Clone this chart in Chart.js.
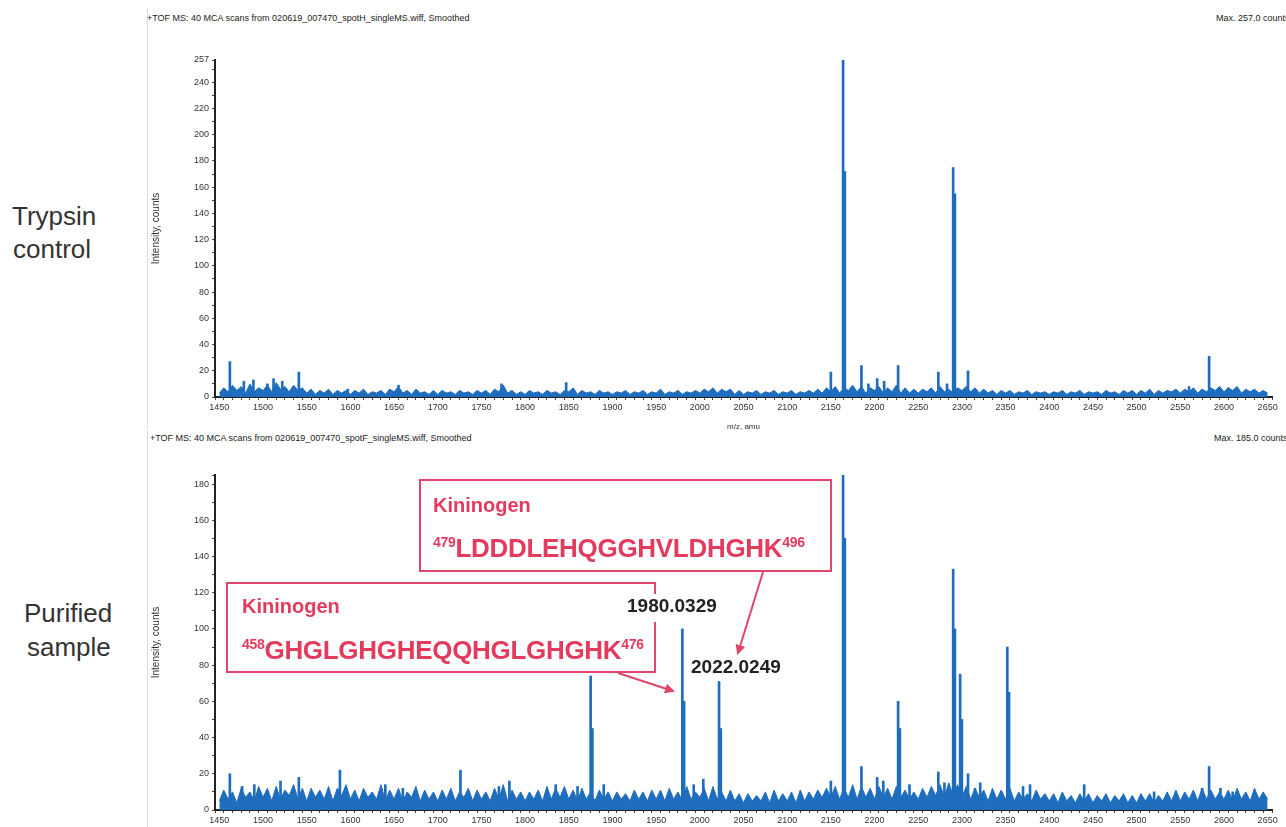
<!DOCTYPE html>
<html>
<head>
<meta charset="utf-8">
<script src="https://cdn.jsdelivr.net/npm/chart.js@4/dist/chart.umd.min.js"></script>
<style>
body { margin: 0; background: #fff; width: 1286px; height: 827px; overflow: hidden; position: relative; font-family: "Liberation Sans", Arial, sans-serif; }
canvas { position: absolute; }
.abs { position: absolute; white-space: nowrap; }
.side { font-size: 26px; color: #333; line-height: 26px; }
.hdr { font-size: 9px; color: #222; }
.frame { position: absolute; left: 147px; width: 0; border-left: 1px solid #ddd; }
.box { position: absolute; border: 2px solid #e2456a; box-sizing: border-box; }
.kin { font-size: 20px; font-weight: bold; color: #e23b5e; }
.seq { font-size: 26px; font-weight: bold; color: #e23b5e; letter-spacing: -0.3px; }
.seq sup { font-size: 14px; vertical-align: 10px; line-height: 0; }
.mass { font-size: 19px; font-weight: bold; color: #222; }
</style>
</head>
<body>

<div class="frame" style="top:8px;height:420px"></div>
<div class="frame" style="top:430px;height:397px"></div>

<div class="abs hdr" style="left:147px;top:13px">+TOF MS: 40 MCA scans from 020619_007470_spotH_singleMS.wiff, Smoothed</div>
<div class="abs hdr" style="left:1216px;top:13px">Max. 257.0 counts</div>
<div class="abs hdr" style="left:150px;top:433px">+TOF MS: 40 MCA scans from 020619_007470_spotF_singleMS.wiff, Smoothed</div>
<div class="abs hdr" style="left:1214px;top:433px">Max. 185.0 counts</div>

<div class="abs side" style="left:12px;top:203px">Trypsin</div>
<div class="abs side" style="left:13px;top:236px">control</div>
<div class="abs side" style="left:24px;top:600px">Purified</div>
<div class="abs side" style="left:27px;top:634px">sample</div>

<canvas id="topChart" width="1136" height="382" style="left:150px;top:50px"></canvas>
<canvas id="bottomChart" width="1136" height="380" style="left:150px;top:465px"></canvas>

<!-- annotations -->
<div class="box" style="left:419px;top:479px;width:413px;height:93px"></div>
<div class="abs kin" style="left:433px;top:494px">Kininogen</div>
<div class="abs seq" style="left:433px;top:533px"><sup>479</sup>LDDDLEHQGGHVLDHGHK<sup>496</sup></div>

<div class="box" style="left:226px;top:582px;width:430px;height:91px;border-right:none"></div>
<div class="abs" style="left:654px;top:582px;width:2px;height:12px;background:#e2456a"></div>
<div class="abs" style="left:654px;top:622px;width:2px;height:51px;background:#e2456a"></div>
<div class="abs kin" style="left:242px;top:595px">Kininogen</div>
<div class="abs seq" style="left:242px;top:635px"><sup>458</sup>GHGLGHGHEQQHGLGHGHK<sup>476</sup></div>

<div class="abs mass" style="left:627px;top:595px">1980.0329</div>
<div class="abs mass" style="left:691px;top:656px">2022.0249</div>

<svg class="abs" style="left:0;top:0" width="1286" height="827">
  <defs>
    <marker id="ah" markerWidth="10" markerHeight="10" refX="8" refY="5" orient="auto" markerUnits="userSpaceOnUse">
      <path d="M0,0 L10,5 L0,10 z" fill="#e2456a"/>
    </marker>
  </defs>
  <line x1="763" y1="572" x2="738" y2="653" stroke="#e2456a" stroke-width="2" marker-end="url(#ah)"/>
  <line x1="618" y1="673" x2="673" y2="691" stroke="#e2456a" stroke-width="2" marker-end="url(#ah)"/>
</svg>

<script>
// m/z grid used for the baseline noise (one value every 5 amu from 1450 to 2650)
const NOISE_START = 1450;
const NOISE_STEP = 5;

const xTickLabels = [1450, 1500, 1550, 1600, 1650, 1700, 1750, 1800, 1850, 1900, 1950, 2000,
    2050, 2100, 2150, 2200, 2250, 2300, 2350, 2400, 2450, 2500, 2550, 2600, 2650];
const yTickLabelsTop = [0, 20, 40, 60, 80, 100, 120, 140, 160, 180, 200, 220, 240, 257];
const yTickLabelsBottom = [0, 20, 40, 60, 80, 100, 120, 140, 160, 180];

// trypsin control
const noiseTop = [
    3, 7, 4, 9, 5, 8, 3, 10, 4, 7,
    5, 9, 4, 11, 6, 8, 4, 9, 5, 7,
    3, 6, 2, 5, 3, 6, 2, 5, 3, 5,
    2, 5, 3, 6, 2, 4, 3, 5, 2, 6,
    4, 8, 3, 5, 2, 6, 3, 4, 2, 5,
    2, 5, 3, 4, 2, 5, 3, 4, 2, 5,
    3, 5, 2, 6, 4, 9, 3, 5, 2, 4,
    2, 5, 3, 4, 2, 5, 3, 4, 2, 5,
    4, 7, 2, 5, 3, 4, 2, 5, 3, 4,
    2, 4, 3, 5, 2, 4, 3, 5, 2, 4,
    3, 6, 2, 4, 3, 5, 2, 4, 3, 5,
    3, 6, 4, 7, 3, 6, 4, 6, 2, 5,
    2, 4, 3, 5, 2, 4, 3, 5, 2, 4,
    3, 5, 2, 4, 3, 5, 3, 6, 3, 7,
    4, 8, 3, 7, 5, 9, 4, 8, 3, 7,
    5, 8, 3, 7, 4, 9, 3, 7, 3, 6,
    3, 6, 4, 7, 3, 8, 4, 6, 3, 7,
    5, 8, 4, 7, 3, 6, 3, 5, 2, 5,
    3, 5, 2, 4, 3, 5, 2, 4, 3, 4,
    2, 4, 3, 5, 2, 4, 3, 5, 2, 4,
    3, 4, 2, 5, 3, 4, 2, 5, 3, 5,
    2, 5, 3, 6, 2, 5, 3, 5, 4, 6,
    3, 6, 4, 7, 3, 6, 4, 7, 5, 8,
    4, 7, 5, 8, 3, 6, 4, 6, 3, 5,
    3
];
const peakMzTop = [1462, 1478, 1489, 1505, 1512, 1522, 1541, 1597, 1655, 1773, 1847,
    2150, 2164, 2166, 2185, 2193, 2203, 2211, 2227, 2273, 2283, 2290, 2292, 2307,
    2560, 2583, 2605];
const peakIntTop = [27, 12, 13, 10, 14, 12, 19, 6, 9, 10, 11,
    19, 257, 172, 24, 10, 14, 12, 24, 19, 10, 175, 155, 20,
    8, 31, 7];

// purified sample
const noiseBottom = [
    5, 11, 6, 10, 4, 12, 7, 10, 5, 13,
    7, 12, 5, 13, 6, 11, 8, 14, 6, 12,
    5, 12, 7, 11, 6, 13, 5, 12, 8, 14,
    6, 11, 5, 12, 7, 10, 6, 14, 5, 11,
    6, 12, 5, 10, 7, 13, 5, 11, 6, 10,
    5, 11, 6, 12, 5, 10, 7, 12, 5, 11,
    6, 10, 5, 12, 6, 14, 5, 11, 6, 10,
    5, 10, 6, 11, 5, 13, 6, 12, 7, 13,
    6, 11, 5, 12, 6, 10, 5, 11, 6, 10,
    5, 10, 6, 9, 5, 11, 6, 10, 5, 11,
    6, 11, 5, 12, 6, 10, 5, 13, 6, 10,
    7, 12, 5, 13, 6, 10, 5, 11, 5, 9,
    4, 9, 5, 8, 5, 10, 4, 11, 5, 9,
    5, 10, 4, 11, 5, 10, 6, 11, 7, 12,
    7, 13, 6, 12, 7, 14, 6, 13, 7, 12,
    6, 13, 7, 12, 6, 13, 7, 11, 6, 10,
    6, 12, 7, 13, 8, 14, 7, 15, 8, 14,
    7, 13, 6, 12, 7, 11, 5, 12, 6, 11,
    6, 12, 5, 10, 6, 9, 5, 11, 6, 9,
    5, 9, 4, 10, 5, 8, 4, 9, 5, 9,
    4, 8, 5, 9, 4, 8, 5, 9, 4, 8,
    4, 9, 5, 9, 4, 8, 5, 10, 5, 11,
    5, 10, 6, 11, 5, 12, 6, 11, 6, 10,
    6, 11, 5, 12, 6, 10, 5, 12, 6, 10,
    6
];
const peakMzBottom = [1462, 1476, 1490, 1520, 1541, 1588, 1640, 1660, 1726, 1770, 1782,
    1835, 1860, 1875, 1877, 1890, 1980, 1982, 1993, 2004, 2022, 2024,
    2150, 2164, 2166, 2185, 2203, 2210, 2227, 2229, 2240, 2273, 2280,
    2290, 2292, 2298, 2300, 2307, 2315, 2321, 2352, 2354, 2370, 2378,
    2440, 2520, 2575, 2583, 2596, 2610];
const peakIntBottom = [20, 13, 14, 16, 18, 22, 14, 12, 22, 13, 16,
    14, 13, 74, 45, 14, 100, 60, 14, 17, 71, 45,
    16, 185, 150, 24, 18, 16, 60, 45, 14, 21, 15,
    133, 100, 75, 50, 20, 12, 15, 90, 65, 13, 14,
    14, 10, 12, 24, 12, 10];

const BLUE = '#1f6dbd';

function makeSpectrum(id, noise, peakMz, peakInt, yMax, yLabels, padTop, showXTitle) {
    const ctx = document.getElementById(id).getContext('2d');
    return new Chart(ctx, {
        type: 'bar',
        data: {
            datasets: [
                {
                    type: 'bar',
                    data: peakMz.map((m, i) => ({ x: m, y: peakInt[i] })),
                    backgroundColor: BLUE,
                    barThickness: 2,
                    order: 1
                },
                {
                    type: 'line',
                    data: noise.map((v, i) => ({ x: NOISE_START + i * NOISE_STEP, y: v })),
                    borderColor: BLUE,
                    backgroundColor: BLUE,
                    borderWidth: 1,
                    fill: 'origin',
                    tension: 0,
                    pointRadius: 0,
                    order: 2
                }
            ]
        },
        options: {
            responsive: false,
            animation: false,
            layout: { padding: { top: padTop, right: 14, left: 0, bottom: 0 } },
            plugins: { legend: { display: false }, tooltip: { enabled: false } },
            scales: {
                x: {
                    type: 'linear',
                    min: 1450,
                    max: 2650,
                    afterBuildTicks: function (scale) {
                        const t = [];
                        for (let v = 1450; v <= 2650; v += 10) t.push({ value: v });
                        scale.ticks = t;
                    },
                    afterFit: function (scale) { scale.height = 35; },
                    ticks: {
                        autoSkip: false,
                        maxRotation: 0,
                        padding: 2,
                        color: '#333',
                        font: { size: 9, family: 'Liberation Sans' },
                        callback: function (value) {
                            return xTickLabels.includes(value) ? String(value) : '';
                        }
                    },
                    grid: { drawOnChartArea: false, drawTicks: true, tickLength: 3, color: '#444' },
                    border: { color: '#222', width: 2 },
                    title: {
                        display: showXTitle,
                        text: 'm/z, amu',
                        color: '#333',
                        font: { size: 8, family: 'Liberation Sans' },
                        padding: 0
                    }
                },
                y: {
                    min: 0,
                    max: yMax,
                    afterBuildTicks: function (scale) {
                        const t = [];
                        for (let v = 0; v < yMax; v += 10) t.push({ value: v });
                        t.push({ value: yMax });
                        scale.ticks = t;
                    },
                    afterFit: function (scale) { scale.width = 65; },
                    ticks: {
                        autoSkip: false,
                        padding: 3,
                        color: '#333',
                        font: { size: 9, family: 'Liberation Sans' },
                        callback: function (value) {
                            return yLabels.includes(value) ? String(value) : '';
                        }
                    },
                    grid: { drawOnChartArea: false, drawTicks: true, tickLength: 3, color: '#444' },
                    border: { color: '#222', width: 2 },
                    title: {
                        display: true,
                        text: 'Intensity, counts',
                        color: '#333',
                        font: { size: 10, family: 'Liberation Sans' },
                        padding: 0
                    }
                }
            }
        }
    });
}

makeSpectrum('topChart', noiseTop, peakMzTop, peakIntTop, 257, yTickLabelsTop, 10, true);
makeSpectrum('bottomChart', noiseBottom, peakMzBottom, peakIntBottom, 185, yTickLabelsBottom, 10, false);
</script>
</body>
</html>
